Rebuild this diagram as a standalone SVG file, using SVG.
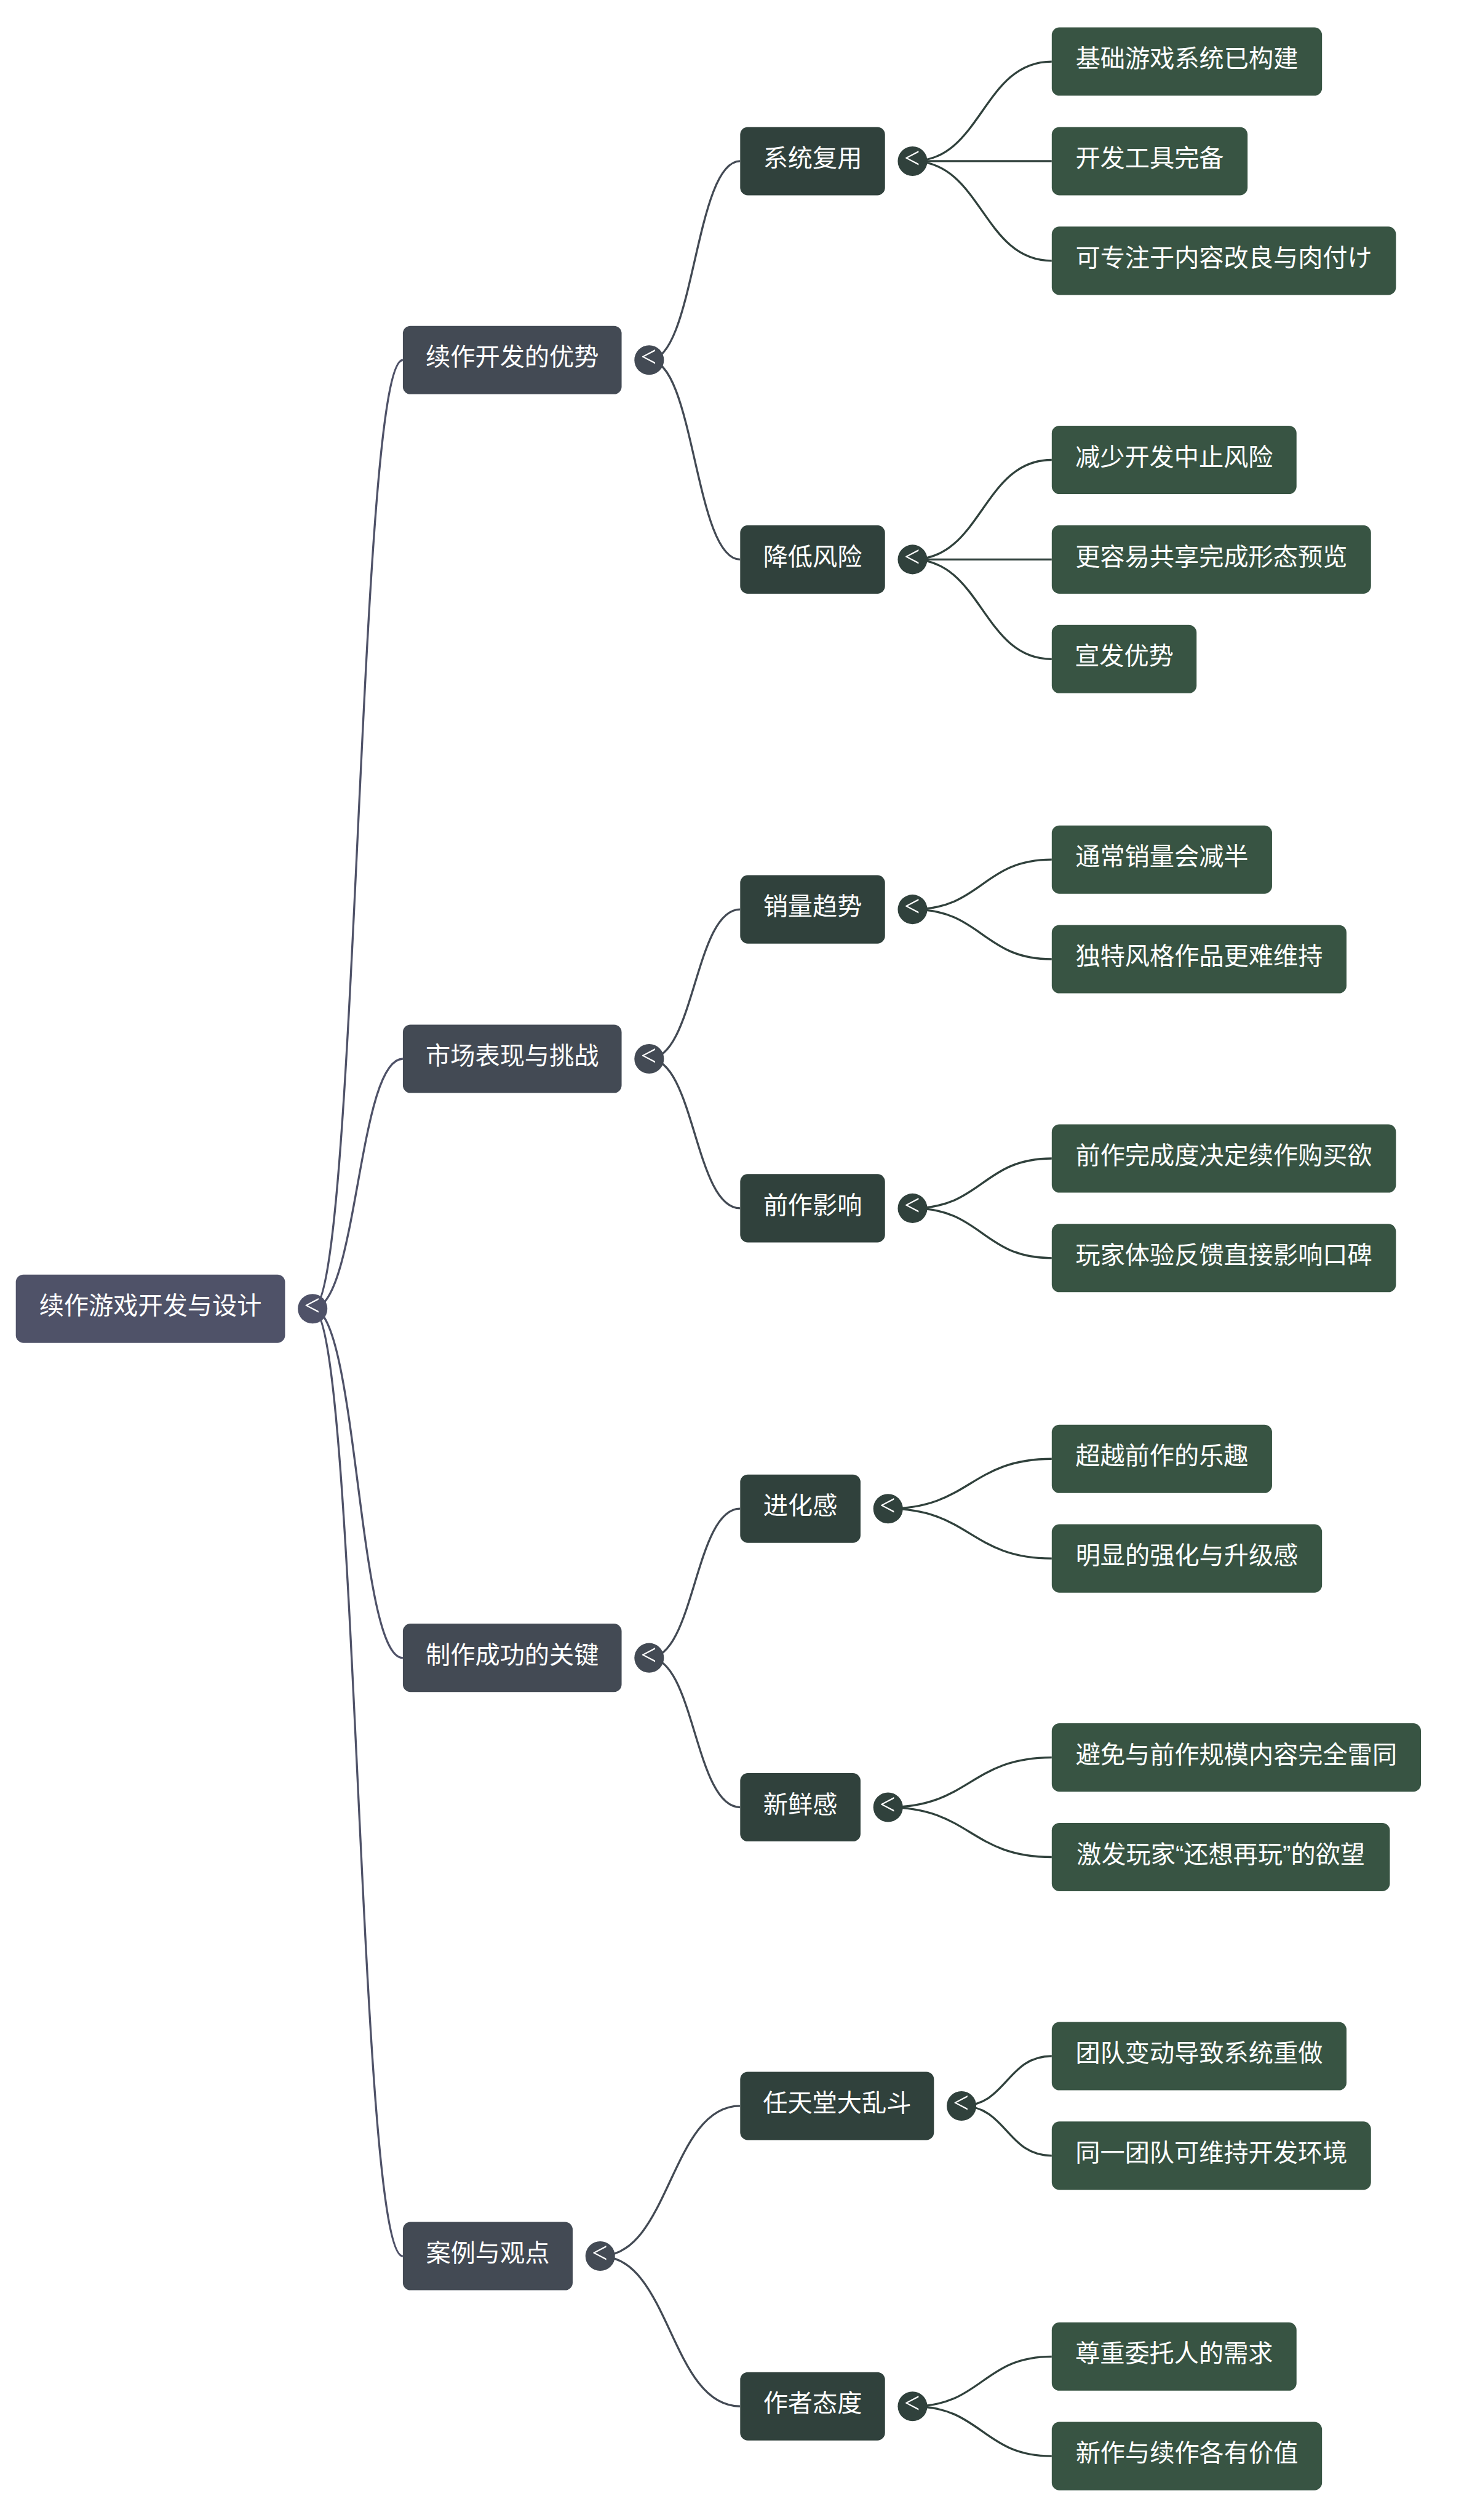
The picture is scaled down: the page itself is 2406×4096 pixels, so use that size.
<svg xmlns="http://www.w3.org/2000/svg" width="2406" height="4096" viewBox="0 0 2406 4096">
<style>
.t{font-family:"Liberation Sans","Noto Sans CJK SC",sans-serif;font-size:48.5px;fill:#ffffff;text-anchor:middle}
.b{font-family:"Lato","Liberation Sans",sans-serif;font-weight:300;font-size:68px;fill:#ffffff;text-anchor:middle}
.r0{fill:#4f5268}.r1{fill:#434a54}.r2{fill:#30413c}.r3{fill:#385443}
.l0,.l1,.l2{fill:none;stroke-width:4}
.l0{stroke:#4f5268}.l1{stroke:#434a54}.l2{stroke:#30413c}
</style>
<rect width="2406" height="4096" fill="#ffffff"/>
<g transform="scale(0.829)">
<g id="connectors">
<path class="l0" d="M613,2566 C701.5,2566 701.5,706 790,706"/>
<path class="l0" d="M613,2566 C701.5,2566 701.5,2076 790,2076"/>
<path class="l0" d="M613,2566 C701.5,2566 701.5,3250.5 790,3250.5"/>
<path class="l0" d="M613,2566 C701.5,2566 701.5,4423.5 790,4423.5"/>
<path class="l1" d="M1273,706 C1362.25,706 1362.25,316 1451.5,316"/>
<path class="l1" d="M1273,706 C1362.25,706 1362.25,1097 1451.5,1097"/>
<path class="l1" d="M1273,2076 C1362.25,2076 1362.25,1783 1451.5,1783"/>
<path class="l1" d="M1273,2076 C1362.25,2076 1362.25,2369 1451.5,2369"/>
<path class="l1" d="M1273,3250.5 C1362.25,3250.5 1362.25,2958 1451.5,2958"/>
<path class="l1" d="M1273,3250.5 C1362.25,3250.5 1362.25,3543.5 1451.5,3543.5"/>
<path class="l1" d="M1177,4423.5 C1314.25,4423.5 1314.25,4129 1451.5,4129"/>
<path class="l1" d="M1177,4423.5 C1314.25,4423.5 1314.25,4718 1451.5,4718"/>
<path class="l2" d="M1789.5,316 C1926,316 1926,120.7 2062.5,120.7"/>
<path class="l2" d="M1789.5,316 L2062.5,316"/>
<path class="l2" d="M1789.5,316 C1926,316 1926,511.3 2062.5,511.3"/>
<path class="l2" d="M1789.5,1097 C1926,1097 1926,901.7 2062.5,901.7"/>
<path class="l2" d="M1789.5,1097 L2062.5,1097"/>
<path class="l2" d="M1789.5,1097 C1926,1097 1926,1292.3 2062.5,1292.3"/>
<path class="l2" d="M1789.5,1783 C1926,1783 1926,1685.4 2062.5,1685.4"/>
<path class="l2" d="M1789.5,1783 C1926,1783 1926,1880.6 2062.5,1880.6"/>
<path class="l2" d="M1789.5,2369 C1926,2369 1926,2271.4 2062.5,2271.4"/>
<path class="l2" d="M1789.5,2369 C1926,2369 1926,2466.6 2062.5,2466.6"/>
<path class="l2" d="M1741.5,2958 C1902,2958 1902,2860.4 2062.5,2860.4"/>
<path class="l2" d="M1741.5,2958 C1902,2958 1902,3055.6 2062.5,3055.6"/>
<path class="l2" d="M1741.5,3543.5 C1902,3543.5 1902,3445.9 2062.5,3445.9"/>
<path class="l2" d="M1741.5,3543.5 C1902,3543.5 1902,3641.1 2062.5,3641.1"/>
<path class="l2" d="M1885.5,4129 C1974,4129 1974,4031.4 2062.5,4031.4"/>
<path class="l2" d="M1885.5,4129 C1974,4129 1974,4226.6 2062.5,4226.6"/>
<path class="l2" d="M1789.5,4718 C1926,4718 1926,4620.4 2062.5,4620.4"/>
<path class="l2" d="M1789.5,4718 C1926,4718 1926,4815.6 2062.5,4815.6"/>
</g>

<g id="root">
<rect class="r0" x="31" y="2499" width="528" height="134" rx="15"/>
<text class="t" x="295" y="2577">续作游戏开发与设计</text>
<circle class="r0" cx="613" cy="2566" r="29"/>
<text class="b" x="613" y="2583">&lt;</text>
</g>

<g id="n-c1">
<rect class="r1" x="790" y="639" width="429" height="134" rx="15"/>
<text class="t" x="1004.5" y="717">续作开发的优势</text>
<circle class="r1" cx="1273" cy="706" r="29"/>
<text class="b" x="1273" y="723">&lt;</text>
</g>
<g id="n-c2">
<rect class="r1" x="790" y="2009" width="429" height="134" rx="15"/>
<text class="t" x="1004.5" y="2087">市场表现与挑战</text>
<circle class="r1" cx="1273" cy="2076" r="29"/>
<text class="b" x="1273" y="2093">&lt;</text>
</g>
<g id="n-c3">
<rect class="r1" x="790" y="3183.5" width="429" height="134" rx="15"/>
<text class="t" x="1004.5" y="3261.5">制作成功的关键</text>
<circle class="r1" cx="1273" cy="3250.5" r="29"/>
<text class="b" x="1273" y="3267.5">&lt;</text>
</g>
<g id="n-c4">
<rect class="r1" x="790" y="4356.5" width="333" height="134" rx="15"/>
<text class="t" x="956.5" y="4434.5">案例与观点</text>
<circle class="r1" cx="1177" cy="4423.5" r="29"/>
<text class="b" x="1177" y="4440.5">&lt;</text>
</g>

<g id="n-s1">
<rect class="r2" x="1451.5" y="249" width="284" height="134" rx="15"/>
<text class="t" x="1593.5" y="327">系统复用</text>
<circle class="r2" cx="1789.5" cy="316" r="29"/>
<text class="b" x="1789.5" y="333">&lt;</text>
</g>
<g id="n-s2">
<rect class="r2" x="1451.5" y="1030" width="284" height="134" rx="15"/>
<text class="t" x="1593.5" y="1108">降低风险</text>
<circle class="r2" cx="1789.5" cy="1097" r="29"/>
<text class="b" x="1789.5" y="1114">&lt;</text>
</g>
<g id="n-s3">
<rect class="r2" x="1451.5" y="1716" width="284" height="134" rx="15"/>
<text class="t" x="1593.5" y="1794">销量趋势</text>
<circle class="r2" cx="1789.5" cy="1783" r="29"/>
<text class="b" x="1789.5" y="1800">&lt;</text>
</g>
<g id="n-s4">
<rect class="r2" x="1451.5" y="2302" width="284" height="134" rx="15"/>
<text class="t" x="1593.5" y="2380">前作影响</text>
<circle class="r2" cx="1789.5" cy="2369" r="29"/>
<text class="b" x="1789.5" y="2386">&lt;</text>
</g>
<g id="n-s5">
<rect class="r2" x="1451.5" y="2891" width="236" height="134" rx="15"/>
<text class="t" x="1569.5" y="2969">进化感</text>
<circle class="r2" cx="1741.5" cy="2958" r="29"/>
<text class="b" x="1741.5" y="2975">&lt;</text>
</g>
<g id="n-s6">
<rect class="r2" x="1451.5" y="3476.5" width="236" height="134" rx="15"/>
<text class="t" x="1569.5" y="3554.5">新鲜感</text>
<circle class="r2" cx="1741.5" cy="3543.5" r="29"/>
<text class="b" x="1741.5" y="3560.5">&lt;</text>
</g>
<g id="n-s7">
<rect class="r2" x="1451.5" y="4062" width="380" height="134" rx="15"/>
<text class="t" x="1641.5" y="4140">任天堂大乱斗</text>
<circle class="r2" cx="1885.5" cy="4129" r="29"/>
<text class="b" x="1885.5" y="4146">&lt;</text>
</g>
<g id="n-s8">
<rect class="r2" x="1451.5" y="4651" width="284" height="134" rx="15"/>
<text class="t" x="1593.5" y="4729">作者态度</text>
<circle class="r2" cx="1789.5" cy="4718" r="29"/>
<text class="b" x="1789.5" y="4735">&lt;</text>
</g>

<g id="n-l1"><rect class="r3" x="2062.5" y="53.7" width="530" height="134" rx="15"/><text class="t" x="2327.5" y="131.7">基础游戏系统已构建</text></g>
<g id="n-l2"><rect class="r3" x="2062.5" y="249" width="384" height="134" rx="15"/><text class="t" x="2254.5" y="327">开发工具完备</text></g>
<g id="n-l3"><rect class="r3" x="2062.5" y="444.3" width="675" height="134" rx="15"/><text class="t" x="2400" y="522.3">可专注于内容改良与肉付け</text></g>
<g id="n-l4"><rect class="r3" x="2062.5" y="834.7" width="480" height="134" rx="15"/><text class="t" x="2302.5" y="912.7">减少开发中止风险</text></g>
<g id="n-l5"><rect class="r3" x="2062.5" y="1030" width="626" height="134" rx="15"/><text class="t" x="2375.5" y="1108">更容易共享完成形态预览</text></g>
<g id="n-l6"><rect class="r3" x="2062.5" y="1225.3" width="284" height="134" rx="15"/><text class="t" x="2204.5" y="1303.3">宣发优势</text></g>
<g id="n-l7"><rect class="r3" x="2062.5" y="1618.4" width="432" height="134" rx="15"/><text class="t" x="2278.5" y="1696.4">通常销量会减半</text></g>
<g id="n-l8"><rect class="r3" x="2062.5" y="1813.6" width="578" height="134" rx="15"/><text class="t" x="2351.5" y="1891.6">独特风格作品更难维持</text></g>
<g id="n-l9"><rect class="r3" x="2062.5" y="2204.4" width="675" height="134" rx="15"/><text class="t" x="2400" y="2282.4">前作完成度决定续作购买欲</text></g>
<g id="n-l10"><rect class="r3" x="2062.5" y="2399.6" width="675" height="134" rx="15"/><text class="t" x="2400" y="2477.6">玩家体验反馈直接影响口碑</text></g>
<g id="n-l11"><rect class="r3" x="2062.5" y="2793.4" width="432" height="134" rx="15"/><text class="t" x="2278.5" y="2871.4">超越前作的乐趣</text></g>
<g id="n-l12"><rect class="r3" x="2062.5" y="2988.6" width="530" height="134" rx="15"/><text class="t" x="2327.5" y="3066.6">明显的强化与升级感</text></g>
<g id="n-l13"><rect class="r3" x="2062.5" y="3378.9" width="724" height="134" rx="15"/><text class="t" x="2424.5" y="3456.9">避免与前作规模内容完全雷同</text></g>
<g id="n-l14"><rect class="r3" x="2062.5" y="3574.1" width="663" height="134" rx="15"/><text class="t" x="2394" y="3652.1">激发玩家“还想再玩”的欲望</text></g>
<g id="n-l15"><rect class="r3" x="2062.5" y="3964.4" width="578" height="134" rx="15"/><text class="t" x="2351.5" y="4042.4">团队变动导致系统重做</text></g>
<g id="n-l16"><rect class="r3" x="2062.5" y="4159.6" width="626" height="134" rx="15"/><text class="t" x="2375.5" y="4237.6">同一团队可维持开发环境</text></g>
<g id="n-l17"><rect class="r3" x="2062.5" y="4553.4" width="480" height="134" rx="15"/><text class="t" x="2302.5" y="4631.4">尊重委托人的需求</text></g>
<g id="n-l18"><rect class="r3" x="2062.5" y="4748.6" width="530" height="134" rx="15"/><text class="t" x="2327.5" y="4826.6">新作与续作各有价值</text></g>
</g>
</svg>
